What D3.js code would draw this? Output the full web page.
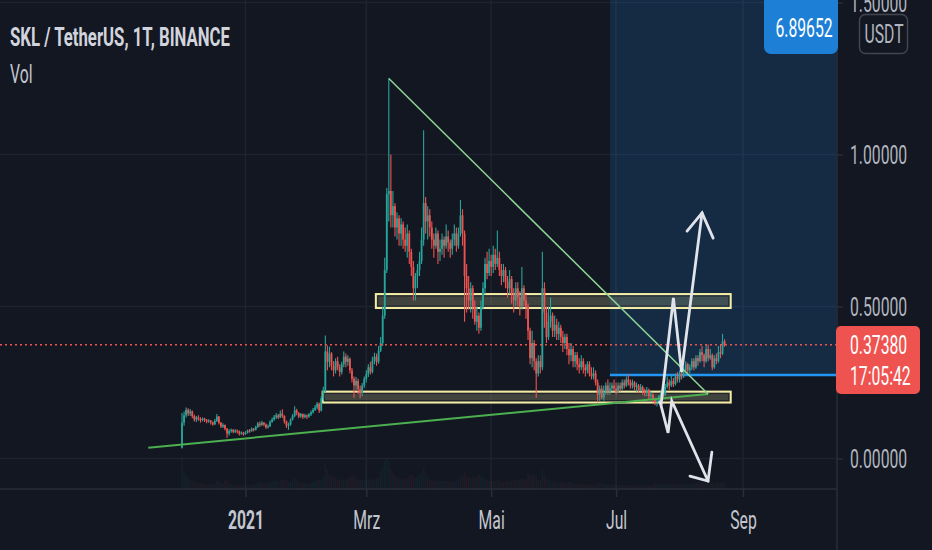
<!DOCTYPE html>
<html>
<head>
<meta charset="utf-8">
<script src="https://cdn.jsdelivr.net/npm/d3@7"></script>
<style>
  html, body { margin: 0; padding: 0; background: #131722; overflow: hidden; }
  svg { display: block; }
  text { font-family: Roboto, "Noto Sans", sans-serif; }
</style>
</head>
<body>
<div id="chart"></div>
<script>
// SKL / USDT daily candles from Binance, first bar 2020-12-01
const startDay = "2020-12-01";
const firstOpen = 0.035;

const closes = [
  // Dec
  0.118, 0.142, 0.160, 0.148, 0.155, 0.140, 0.128, 0.135, 0.130, 0.126, 0.131, 0.127, 0.122, 0.125, 0.119, 0.112,
  0.124, 0.138, 0.118, 0.105, 0.110, 0.098, 0.082, 0.090, 0.094, 0.088, 0.092, 0.089, 0.082, 0.085, 0.080,
  // Jan
  0.085, 0.092, 0.090, 0.098, 0.094, 0.104, 0.115, 0.110, 0.118, 0.112, 0.102, 0.106, 0.120, 0.128, 0.136, 0.142,
  0.135, 0.148, 0.140, 0.122, 0.108, 0.112, 0.128, 0.140, 0.158, 0.150, 0.138, 0.146, 0.136, 0.142, 0.138,
  // Feb
  0.145, 0.152, 0.160, 0.168, 0.180, 0.158, 0.198, 0.222, 0.352, 0.318, 0.345, 0.305, 0.290, 0.320,
  0.300, 0.285, 0.310, 0.335, 0.318, 0.328, 0.290, 0.262, 0.240, 0.255, 0.228, 0.215, 0.240, 0.262,
  // Mar
  0.278, 0.300, 0.285, 0.322, 0.335, 0.318, 0.355, 0.380, 0.470, 0.620, 0.870, 0.880, 0.800, 0.830, 0.760, 0.790,
  0.740, 0.770, 0.720, 0.700, 0.740, 0.680, 0.630, 0.560, 0.600, 0.620, 0.650, 0.720, 0.840, 0.780, 0.800,
  // Apr
  0.760, 0.720, 0.700, 0.740, 0.680, 0.690, 0.720, 0.700, 0.730, 0.710, 0.690, 0.720, 0.740, 0.700, 0.740,
  0.800, 0.740, 0.600, 0.560, 0.520, 0.560, 0.500, 0.450, 0.470, 0.430, 0.500, 0.560, 0.640, 0.610, 0.650,
  // May
  0.630, 0.670, 0.640, 0.660, 0.620, 0.600, 0.620, 0.580, 0.560, 0.590, 0.540, 0.520, 0.560, 0.530, 0.500, 0.560,
  0.520, 0.500, 0.420, 0.330, 0.380, 0.320, 0.280, 0.320, 0.300, 0.560, 0.480, 0.400, 0.450, 0.470, 0.420,
  // Jun
  0.440, 0.410, 0.430, 0.400, 0.380, 0.400, 0.360, 0.340, 0.360, 0.320, 0.340, 0.310, 0.300, 0.320, 0.300,
  0.290, 0.310, 0.280, 0.270, 0.280, 0.250, 0.210, 0.230, 0.200, 0.220, 0.240, 0.220, 0.230, 0.240, 0.230,
  // Jul
  0.220, 0.240, 0.230, 0.250, 0.240, 0.260, 0.250, 0.240, 0.250, 0.235, 0.240, 0.225, 0.235, 0.220, 0.215, 0.225,
  0.205, 0.210, 0.195, 0.185, 0.190, 0.205, 0.215, 0.210, 0.235, 0.250, 0.240, 0.255, 0.245, 0.270, 0.260,
  // Aug
  0.280, 0.270, 0.290, 0.310, 0.290, 0.300, 0.320, 0.300, 0.330, 0.320, 0.350, 0.340,
  0.320, 0.360, 0.330, 0.340, 0.300, 0.330, 0.320, 0.350, 0.345, 0.385, 0.3738
];

const highs = [
  0.150, 0.155, 0.168, 0.165, 0.163, 0.158, 0.145, 0.140, 0.142, 0.136, 0.135, 0.134, 0.130, 0.129, 0.127, 0.122,
  0.130, 0.146, 0.140, 0.120, 0.116, 0.112, 0.100, 0.096, 0.099, 0.097, 0.096, 0.095, 0.092, 0.089, 0.088,
  0.090, 0.095, 0.097, 0.102, 0.100, 0.108, 0.120, 0.122, 0.124, 0.120, 0.115, 0.112, 0.126, 0.135, 0.143, 0.150,
  0.146, 0.158, 0.162, 0.142, 0.125, 0.118, 0.132, 0.146, 0.172, 0.164, 0.152, 0.150, 0.148, 0.147, 0.145,
  0.150, 0.158, 0.166, 0.176, 0.186, 0.184, 0.205, 0.236, 0.405, 0.372, 0.368, 0.350, 0.320, 0.330,
  0.335, 0.310, 0.318, 0.352, 0.345, 0.340, 0.332, 0.298, 0.270, 0.268, 0.262, 0.240, 0.248, 0.270,
  0.290, 0.310, 0.318, 0.335, 0.348, 0.345, 0.370, 0.400, 0.500, 0.660, 0.890, 1.250, 1.000, 0.880, 0.840, 0.810,
  0.800, 0.790, 0.780, 0.760, 0.770, 0.750, 0.690, 0.650, 0.610, 0.640, 0.680, 0.760, 1.080, 0.860, 0.830,
  0.820, 0.780, 0.740, 0.760, 0.750, 0.720, 0.740, 0.730, 0.770, 0.750, 0.720, 0.740, 0.770, 0.760, 0.760,
  0.850, 0.820, 0.750, 0.640, 0.600, 0.580, 0.570, 0.520, 0.500, 0.480, 0.520, 0.580, 0.660, 0.680, 0.690,
  0.670, 0.700, 0.690, 0.750, 0.680, 0.640, 0.640, 0.630, 0.600, 0.620, 0.600, 0.560, 0.580, 0.580, 0.550, 0.630,
  0.570, 0.540, 0.510, 0.430, 0.420, 0.390, 0.330, 0.340, 0.340, 0.680, 0.580, 0.500, 0.500, 0.530, 0.480,
  0.470, 0.460, 0.450, 0.440, 0.420, 0.410, 0.410, 0.380, 0.380, 0.370, 0.350, 0.350, 0.330, 0.340, 0.330,
  0.310, 0.320, 0.320, 0.300, 0.300, 0.290, 0.260, 0.240, 0.240, 0.240, 0.250, 0.260, 0.250, 0.250, 0.260,
  0.250, 0.250, 0.250, 0.260, 0.260, 0.270, 0.277, 0.260, 0.260, 0.255, 0.250, 0.245, 0.245, 0.240, 0.230, 0.235,
  0.230, 0.220, 0.215, 0.200, 0.200, 0.210, 0.225, 0.225, 0.245, 0.270, 0.260, 0.275, 0.265, 0.280, 0.285,
  0.290, 0.290, 0.300, 0.320, 0.315, 0.310, 0.330, 0.330, 0.340, 0.340, 0.360, 0.370,
  0.345, 0.375, 0.375, 0.360, 0.345, 0.340, 0.345, 0.370, 0.375, 0.410, 0.392
];

const lows = [
  0.033, 0.108, 0.135, 0.140, 0.140, 0.132, 0.122, 0.120, 0.124, 0.118, 0.122, 0.120, 0.116, 0.118, 0.112, 0.108,
  0.110, 0.120, 0.112, 0.100, 0.100, 0.092, 0.068, 0.076, 0.085, 0.083, 0.084, 0.082, 0.076, 0.078, 0.075,
  0.078, 0.082, 0.085, 0.088, 0.089, 0.092, 0.100, 0.104, 0.108, 0.106, 0.098, 0.099, 0.104, 0.118, 0.124, 0.130,
  0.130, 0.133, 0.134, 0.115, 0.100, 0.094, 0.108, 0.125, 0.136, 0.142, 0.132, 0.134, 0.130, 0.132, 0.130,
  0.134, 0.140, 0.148, 0.156, 0.162, 0.150, 0.155, 0.192, 0.218, 0.290, 0.300, 0.290, 0.270, 0.280,
  0.290, 0.270, 0.276, 0.300, 0.300, 0.305, 0.280, 0.250, 0.200, 0.225, 0.212, 0.198, 0.205, 0.232,
  0.250, 0.268, 0.276, 0.280, 0.310, 0.305, 0.312, 0.350, 0.370, 0.460, 0.610, 0.780, 0.760, 0.760, 0.730, 0.720,
  0.700, 0.700, 0.690, 0.680, 0.660, 0.640, 0.600, 0.520, 0.520, 0.560, 0.600, 0.640, 0.700, 0.740, 0.720,
  0.730, 0.690, 0.660, 0.690, 0.640, 0.650, 0.670, 0.660, 0.690, 0.680, 0.660, 0.670, 0.700, 0.680, 0.690,
  0.730, 0.700, 0.450, 0.480, 0.490, 0.480, 0.460, 0.440, 0.420, 0.410, 0.420, 0.490, 0.540, 0.590, 0.600,
  0.600, 0.610, 0.620, 0.630, 0.600, 0.570, 0.580, 0.560, 0.530, 0.540, 0.510, 0.480, 0.500, 0.500, 0.470, 0.490,
  0.500, 0.460, 0.390, 0.310, 0.300, 0.290, 0.200, 0.270, 0.280, 0.290, 0.430, 0.380, 0.390, 0.430, 0.400,
  0.400, 0.390, 0.390, 0.380, 0.350, 0.360, 0.340, 0.310, 0.320, 0.300, 0.300, 0.290, 0.280, 0.290, 0.280,
  0.270, 0.280, 0.270, 0.260, 0.260, 0.240, 0.185, 0.190, 0.195, 0.190, 0.210, 0.210, 0.210, 0.220, 0.220,
  0.210, 0.215, 0.220, 0.225, 0.230, 0.235, 0.240, 0.230, 0.230, 0.225, 0.220, 0.215, 0.220, 0.210, 0.205, 0.205,
  0.195, 0.190, 0.185, 0.175, 0.171, 0.185, 0.195, 0.200, 0.205, 0.230, 0.225, 0.235, 0.235, 0.240, 0.250,
  0.250, 0.260, 0.265, 0.280, 0.280, 0.280, 0.290, 0.290, 0.295, 0.305, 0.315, 0.320,
  0.300, 0.315, 0.320, 0.325, 0.290, 0.295, 0.310, 0.315, 0.330, 0.340, 0.368
];

// volume, millions SKL (faint overlay)
const volumes = [
  100, 60, 45, 35, 30, 28, 25, 22, 20, 20, 18, 16, 15, 15, 18, 16, 20, 25, 22, 20, 18, 25, 30, 18, 15, 14, 13, 12, 15, 12, 12,
  12, 14, 13, 15, 14, 18, 22, 20, 18, 16, 20, 15, 22, 24, 26, 28, 22, 28, 30, 28, 30, 22, 25, 30, 35, 28, 22, 20, 18, 18, 16,
  18, 20, 22, 25, 28, 30, 25, 35, 80, 60, 45, 40, 40, 35, 30, 28, 32, 30, 28, 35, 40, 38, 45, 35, 30, 28, 30, 28,
  30, 28, 30, 32, 30, 35, 38, 55, 70, 90, 95, 85, 60, 50, 40, 38, 35, 32, 30, 35, 32, 40, 45, 38, 35, 40, 45, 50, 70, 50, 40,
  30, 28, 26, 28, 26, 24, 25, 24, 26, 24, 22, 24, 26, 25, 28, 40, 45, 50, 40, 38, 35, 40, 35, 40, 45, 40, 35, 30, 28, 26,
  25, 26, 24, 30, 28, 25, 24, 26, 24, 26, 30, 32, 28, 26, 30, 35, 32, 30, 50, 45, 40, 45, 40, 30, 28, 60, 45, 30, 28, 25, 24,
  22, 20, 20, 22, 18, 18, 20, 22, 20, 18, 16, 16, 15, 16, 15, 14, 15, 14, 16, 15, 16, 20, 22, 18, 16, 15, 14, 14, 15, 14,
  13, 14, 13, 14, 12, 13, 14, 12, 12, 11, 12, 11, 12, 11, 12, 11, 12, 13, 14, 18, 16, 15, 18, 16, 15, 18, 16, 17, 18, 16, 15,
  16, 15, 17, 18, 16, 17, 18, 16, 20, 18, 20, 22, 18, 20, 18, 16, 22, 18, 20, 22, 20, 24, 18
];

const timeTicks = ["2021-01-01", "2021-03-01", "2021-05-01", "2021-07-01", "2021-09-01"];
const timeTickLabels = ["2021", "Mrz", "Mai", "Jul", "Sep"];
const priceTicks = [0, 0.5, 1, 1.5];

const lastPrice = 0.3738;
const countdown = "17:05:42";
const currency = "USDT";
const title = "SKL / TetherUS, 1T, BINANCE";

// long position tool
const positionStart = "2021-06-28";
const positionEnd = "2021-10-16T12:00Z";
const entryPrice = 0.2747;
const targetPrice = 6.89652;

// drawings: [date, price]
const zoneUpper = [["2021-03-05T16:00Z", 0.495], ["2021-08-26", 0.541]];
const zoneLower = [["2021-02-07T16:00Z", 0.184], ["2021-08-26", 0.220]];
const resistanceLine = [["2021-03-12", 1.25], ["2021-08-14T22:00Z", 0.212]];
const supportLine = [["2020-11-14T12:00Z", 0.0355], ["2021-08-14T22:00Z", 0.212]];
const arrowUpPath = [["2021-07-23", 0.179], ["2021-07-29", 0.528], ["2021-08-02", 0.2845], ["2021-08-12", 0.808]];
const arrowUpHead = [["2021-08-04T16:00Z", 0.748], ["2021-08-12", 0.808], ["2021-08-17T10:00Z", 0.725]];
const arrowDownPath = [["2021-07-22T12:00Z", 0.186], ["2021-07-26T10:00Z", 0.084], ["2021-07-28T05:00Z", 0.189], ["2021-08-14T22:00Z", -0.074]];
const arrowDownHead = [["2021-08-16T19:00Z", 0.021], ["2021-08-14T22:00Z", -0.074], ["2021-08-06T02:00Z", -0.058]];

const width = 932, height = 550;
const plotRight = 837, plotBottom = 489;
const squeeze = 0.63; // labels in the screenshot are horizontally compressed

const up = "#26a69a", down = "#ef5350";

const xScale = d3.scaleUtc()
    .domain([new Date("2021-01-01"), new Date("2021-09-01")])
    .range([245.5, 743]);

const yScale = d3.scaleLinear()
    .domain([0, 1])
    .range([458.5, 154.5]);

const volScale = d3.scaleLinear()
    .domain([0, d3.max(volumes)])
    .range([0, 32]);

const candles = closes.map((c, i) => {
    const open = i === 0 ? firstOpen : closes[i - 1];
    return {
        date: d3.utcDay.offset(new Date(startDay), i),
        open: open,
        close: c,
        high: Math.max(highs[i], open, c),
        low: Math.min(lows[i], open, c),
        volume: volumes[i]
    };
});

const svg = d3.select("#chart")
    .append("svg")
    .attr("width", width)
    .attr("height", height);

svg.append("rect").attr("width", width).attr("height", height).attr("fill", "#131722");

svg.append("defs").append("clipPath").attr("id", "plot-clip")
    .append("rect").attr("width", plotRight).attr("height", plotBottom);

const plot = svg.append("g").attr("clip-path", "url(#plot-clip)");

// grid
plot.append("g").selectAll("line").data(priceTicks).join("line")
    .attr("x1", 0).attr("x2", plotRight)
    .attr("y1", d => yScale(d)).attr("y2", d => yScale(d))
    .attr("stroke", "#1f2330").attr("stroke-width", 1.5);
plot.append("g").selectAll("line").data(timeTicks).join("line")
    .attr("x1", d => xScale(new Date(d))).attr("x2", d => xScale(new Date(d)))
    .attr("y1", 0).attr("y2", plotBottom)
    .attr("stroke", "#1f2330").attr("stroke-width", 1.5);

// position (target zone)
const px0 = xScale(new Date(positionStart)), px1 = xScale(new Date(positionEnd));
const pyTop = Math.max(-10, yScale(targetPrice));
plot.append("rect")
    .attr("x", px0).attr("y", pyTop)
    .attr("width", px1 - px0).attr("height", yScale(entryPrice) - pyTop)
    .attr("fill", "rgba(33,150,243,0.16)");

// volume
const bw = 1.8;
plot.append("g").selectAll("rect").data(candles).join("rect")
    .attr("x", d => xScale(d.date) - bw / 2)
    .attr("width", bw)
    .attr("y", d => plotBottom - volScale(d.volume))
    .attr("height", d => volScale(d.volume))
    .attr("fill", d => d.close >= d.open ? up : down)
    .attr("opacity", 0.06);

// zones
function zone(z) {
    const x0 = xScale(new Date(z[0][0])), x1 = xScale(new Date(z[1][0]));
    const y0 = yScale(z[1][1]), y1 = yScale(z[0][1]);
    plot.append("rect")
        .attr("x", x0).attr("y", y0).attr("width", x1 - x0).attr("height", y1 - y0)
        .attr("fill", "rgba(170,168,130,0.3)")
        .attr("stroke", "#f3eca4").attr("stroke-width", 2);
    plot.append("rect")
        .attr("x", x0 + 2).attr("y", y0 + 2).attr("width", x1 - x0 - 4).attr("height", y1 - y0 - 4)
        .attr("fill", "none")
        .attr("stroke", "#131722").attr("stroke-width", 1).attr("opacity", 0.7);
}
zone(zoneUpper);
zone(zoneLower);

// entry line
plot.append("line")
    .attr("x1", px0).attr("x2", px1)
    .attr("y1", yScale(entryPrice)).attr("y2", yScale(entryPrice))
    .attr("stroke", "#2196f3").attr("stroke-width", 2.5);

// candles
const cg = plot.append("g");
cg.selectAll("line").data(candles).join("line")
    .attr("x1", d => xScale(d.date)).attr("x2", d => xScale(d.date))
    .attr("y1", d => yScale(d.high)).attr("y2", d => yScale(d.low))
    .attr("stroke", d => d.close >= d.open ? up : down)
    .attr("stroke-width", 1.1);
cg.selectAll("rect").data(candles).join("rect")
    .attr("x", d => xScale(d.date) - bw / 2)
    .attr("width", bw)
    .attr("y", d => yScale(Math.max(d.open, d.close)))
    .attr("height", d => Math.max(1, Math.abs(yScale(d.open) - yScale(d.close))))
    .attr("fill", d => d.close >= d.open ? up : down);

// trend lines
const line = d3.line()
    .x(d => xScale(new Date(d[0])))
    .y(d => yScale(d[1]));

plot.append("path").datum(supportLine).attr("d", line)
    .attr("fill", "none").attr("stroke", "#4caf50").attr("stroke-width", 2);
plot.append("path").datum(resistanceLine).attr("d", line)
    .attr("fill", "none").attr("stroke", "#8fd694").attr("stroke-width", 1.5);

// current price
plot.append("line")
    .attr("x1", 0).attr("x2", plotRight)
    .attr("y1", yScale(lastPrice)).attr("y2", yScale(lastPrice))
    .attr("stroke", down).attr("stroke-width", 1.5)
    .attr("stroke-dasharray", "2 3");

// hand drawn arrows
[arrowUpPath, arrowUpHead, arrowDownPath, arrowDownHead].forEach(a => {
    plot.append("path").datum(a).attr("d", line)
        .attr("fill", "none").attr("stroke", "#e1e3ea")
        .attr("stroke-width", 2.8).attr("stroke-linejoin", "miter")
        .attr("stroke-linecap", "round");
});

// axes borders
svg.append("line").attr("x1", plotRight).attr("x2", plotRight).attr("y1", 0).attr("y2", height)
    .attr("stroke", "#2a2e39").attr("stroke-width", 1.5);
svg.append("line").attr("x1", 0).attr("x2", plotRight).attr("y1", plotBottom).attr("y2", plotBottom)
    .attr("stroke", "#2a2e39").attr("stroke-width", 1.5);

const yAxis = d3.axisRight(yScale)
    .tickValues(priceTicks)
    .tickFormat(d3.format(".5f"))
    .tickSize(6);
const ya = svg.append("g").attr("transform", `translate(${plotRight},0)`).call(yAxis);
ya.select(".domain").remove();
ya.selectAll(".tick line").attr("stroke", "#2a2e39").attr("stroke-width", 1.5);
ya.selectAll(".tick text")
    .attr("x", 13).attr("dy", "0.36em")
    .attr("fill", "#b2b5be").attr("font-size", 25)
    .attr("class", "sq");

const xAxis = d3.axisBottom(xScale)
    .tickValues(timeTicks.map(d => new Date(d)))
    .tickFormat((d, i) => timeTickLabels[i])
    .tickSize(8);
const xa = svg.append("g").attr("transform", `translate(0,${plotBottom})`).call(xAxis);
xa.select(".domain").remove();
xa.selectAll(".tick line").attr("stroke", "#2a2e39").attr("stroke-width", 1.5);
xa.selectAll(".tick text")
    .attr("y", 40).attr("dy", 0)
    .attr("fill", "#c3c6ce").attr("font-size", 25)
    .attr("font-weight", (d, i) => i === 0 ? 700 : 400)
    .attr("class", "sq");

// currency box
svg.append("rect").attr("x", 859.5).attr("y", 14.5).attr("width", 48).attr("height", 39).attr("rx", 6)
    .attr("fill", "#131722").attr("stroke", "#434651").attr("stroke-width", 1.5);
svg.append("text").attr("x", 884).attr("y", 43).attr("text-anchor", "middle")
    .attr("fill", "#b2b5be").attr("font-size", 25).attr("class", "sq").text(currency);

// target label
svg.append("rect").attr("x", 764).attr("y", -10).attr("width", 74).attr("height", 64).attr("rx", 7)
    .attr("fill", "#1e7fd6");
svg.append("text").attr("x", 804).attr("y", 37).attr("text-anchor", "middle")
    .attr("fill", "#ffffff").attr("font-size", 25).attr("class", "sq")
    .text(d3.format(".5f")(targetPrice));

// last price label
svg.append("rect").attr("x", 836).attr("y", 326).attr("width", 84).attr("height", 68).attr("rx", 5)
    .attr("fill", down);
svg.append("text").attr("x", 850).attr("y", 354)
    .attr("fill", "#ffffff").attr("font-size", 25).attr("class", "sq")
    .text(d3.format(".5f")(lastPrice));
svg.append("text").attr("x", 850).attr("y", 385)
    .attr("fill", "#ffffff").attr("font-size", 25).attr("class", "sq")
    .text(countdown);

// legend
svg.append("text").attr("x", 10).attr("y", 45.5)
    .attr("fill", "#d1d4dc").attr("font-size", 25).attr("font-weight", 700)
    .attr("textLength", 220).attr("lengthAdjust", "spacingAndGlyphs")
    .text(title);
svg.append("text").attr("x", 10).attr("y", 83)
    .attr("fill", "#c3c6ce").attr("font-size", 25).attr("class", "sq")
    .text("Vol");

// squeeze horizontally around each label's anchor point
svg.selectAll("text.sq").each(function () {
    const x = +this.getAttribute("x") || 0;
    d3.select(this).attr("transform", `translate(${x},0) scale(${squeeze},1) translate(${-x},0)`);
});
</script>
</body>
</html>
